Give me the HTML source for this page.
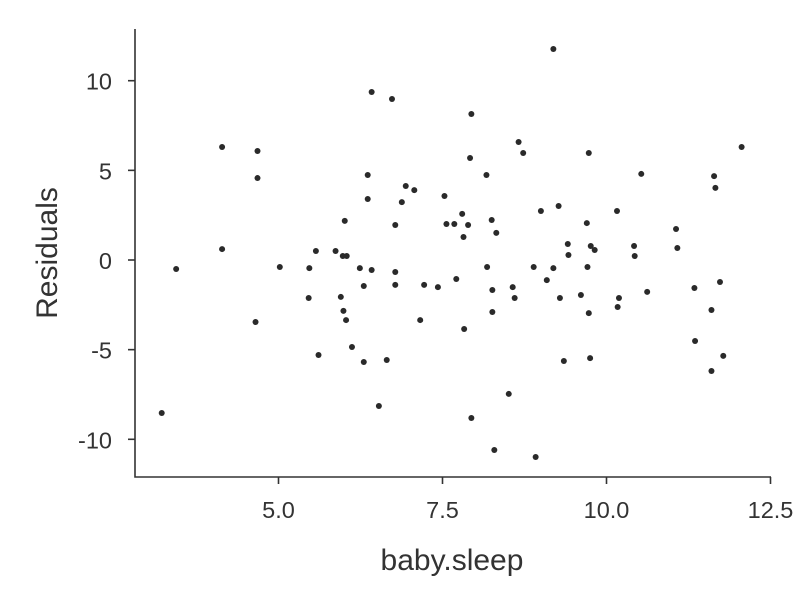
<!DOCTYPE html>
<html><head><meta charset="utf-8"><style>
html,body{margin:0;padding:0;background:#fff;}
svg{display:block;font-family:"Liberation Sans",Arial,sans-serif;}
</style></head><body>
<svg id="chart" width="800" height="600" viewBox="0 0 800 600" xmlns="http://www.w3.org/2000/svg">
<rect width="800" height="600" fill="#fff"/>
<g id="axes"></g>
<g id="points"></g>
<text x="452" y="570" font-size="30" fill="#333" text-anchor="middle">baby.sleep</text>
<text transform="translate(57,253) rotate(-90)" font-size="30" fill="#333" text-anchor="middle">Residuals</text>
</svg>
<script>
const xVals = [3.22,3.44,4.14,4.14,4.65,4.68,4.68,5.02,5.47,5.46,5.57,5.61,5.87,5.95,5.99,6.03,6.01,5.98,6.04,6.12,6.24,6.30,6.30,6.36,6.36,6.42,6.42,6.53,6.65,6.73,6.78,6.78,6.78,6.88,6.94,7.07,7.16,7.22,7.43,7.53,7.56,7.68,7.71,7.80,7.82,7.83,7.89,7.92,7.94,7.94,8.17,8.18,8.25,8.26,8.26,8.32,8.29,8.51,8.57,8.60,8.66,8.73,8.89,8.92,9.00,9.09,9.19,9.27,9.29,9.35,9.41,9.42,9.61,9.70,9.71,9.73,9.75,9.73,9.76,9.82,9.19,10.16,10.19,10.17,10.42,10.43,10.53,10.62,11.06,11.08,11.34,11.35,11.60,11.60,11.64,11.66,11.73,11.78,12.06];
const yVals = [-8.53,-0.50,6.30,0.61,-3.46,6.08,4.57,-0.39,-0.45,-2.12,0.50,-5.30,0.50,-2.06,-2.84,-3.35,2.18,0.22,0.22,-4.85,-0.45,-1.45,-5.69,3.40,4.74,-0.56,9.37,-8.14,-5.58,8.98,1.95,-0.67,-1.39,3.23,4.13,3.90,-3.35,-1.39,-1.51,3.57,2.01,2.01,-1.06,2.57,1.28,-3.85,1.95,5.69,8.14,-8.81,4.74,-0.39,2.23,-1.67,-2.90,1.51,-10.6,-7.47,-1.51,-2.12,6.58,5.97,-0.39,-10.99,2.73,-1.12,-0.45,3.01,-2.12,-5.63,0.89,0.28,-1.95,2.06,-0.39,-2.96,-5.47,5.97,0.78,0.56,11.77,2.73,-2.12,-2.62,0.78,0.22,4.80,-1.78,1.73,0.67,-1.56,-4.52,-2.79,-6.19,4.68,4.02,-1.23,-5.35,6.30];
const xTicks = [5.0,7.5,10.0,12.5];
const xTickLabels = ["5.0","7.5","10.0","12.5"];
const yTicks = [10,5,0,-5,-10];
const yTickLabels = ["10","5","0","-5","-10"];

const NS="http://www.w3.org/2000/svg";
const xScale = v => 278.5 + (v-5)*65.6;
const yScale = v => 260 - v*17.93;
const axes=document.getElementById('axes');
const pts=document.getElementById('points');
function mk(tag,attrs,parent){const e=document.createElementNS(NS,tag);for(const k in attrs)e.setAttribute(k,attrs[k]);parent.appendChild(e);return e;}

let l=mk('path',{d:'M135,29 V477 H771',fill:'none',stroke:'#333','stroke-width':1.6},axes);



xTicks.forEach((t,i)=>{
  const x=xScale(t);
  const tk=mk('line',{x1:x,x2:x,y1:477,y2:484,stroke:'#333','stroke-width':1.6},axes);
  
  
  const tx=mk('text',{x:x,y:518,'font-size':23.5,fill:'#333','text-anchor':'middle'},axes);
  tx.textContent=xTickLabels[i];
  
  
});
yTicks.forEach((t,i)=>{
  const y=yScale(t);
  const tk=mk('line',{x1:128,x2:135,y1:y,y2:y,stroke:'#333','stroke-width':1.6},axes);
  
  
  const tx=mk('text',{x:112,y:y+9,'font-size':23.5,fill:'#333','text-anchor':'end'},axes);
  tx.textContent=yTickLabels[i];
  
  
});
xVals.forEach((xv,i)=>{
  const c=mk('circle',{cx:xScale(xv),cy:yScale(yVals[i]),r:3,fill:'#2a2a2a'},pts);
  
  
});
</script>
</body></html>
